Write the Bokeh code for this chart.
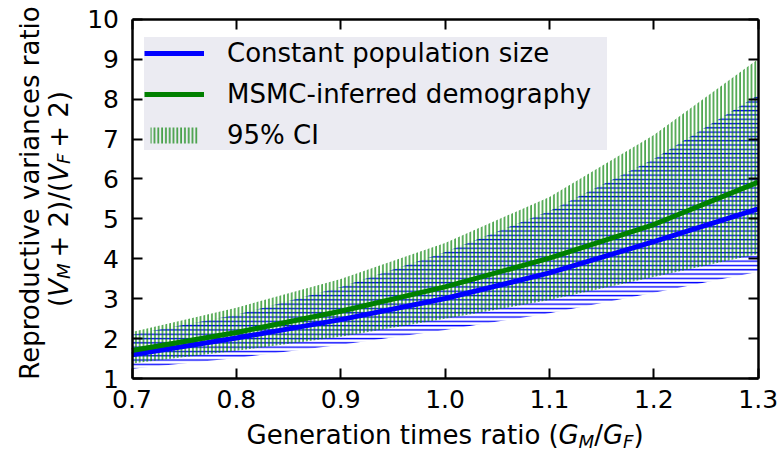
import math
from bokeh.plotting import figure
from bokeh.models import (LinearAxis, FixedTicker, Label, Legend, LegendItem,
                          ColumnDataSource, Range1d)
from bokeh.embed import file_html
from bokeh.resources import INLINE

# ---------------- data ----------------
ratio = [0.7, 0.8, 0.9, 1.0, 1.1, 1.2, 1.3]
constant_pop = [1.60, 2.02, 2.48, 3.01, 3.65, 4.43, 5.25]
constant_lo = [1.25, 1.52, 1.85, 2.22, 2.64, 3.15, 3.68]
constant_hi = [2.10, 2.60, 3.30, 4.17, 5.20, 6.50, 8.10]
msmc = [1.71, 2.16, 2.69, 3.30, 4.02, 4.86, 5.92]
msmc_lo = [1.38, 1.70, 2.05, 2.50, 2.97, 3.55, 4.12]
msmc_hi = [2.17, 2.78, 3.50, 4.40, 5.55, 7.10, 9.00]

x_ticks = [0.7, 0.8, 0.9, 1.0, 1.1, 1.2, 1.3]
x_tick_labels = ["0.7", "0.8", "0.9", "1.0", "1.1", "1.2", "1.3"]
y_ticks = [1, 2, 3, 4, 5, 6, 7, 8, 9, 10]
y_tick_labels = ["1", "2", "3", "4", "5", "6", "7", "8", "9", "10"]
x_lim = (0.7, 1.3)
y_lim = (1, 10)

legend_labels = ["Constant population size", "MSMC-inferred demography", "95% CI"]

# ---------------- layout geometry ----------------
FONT = "DejaVu Sans"
W, H = 780, 454
FL, FR, FT, FB = 131.5, 757.7, 18.6, 378.3  # plotting-area edges (canvas px)
BASE_FIX = 9.0  # baseline correction for labels

kx = (FR - FL) / (x_lim[1] - x_lim[0])
ky = (FB - FT) / (y_lim[1] - y_lim[0])
xr = Range1d(x_lim[0] - FL / kx, x_lim[1] + (W - FR) / kx)
yr = Range1d(y_lim[0] - (H - FB) / ky, y_lim[1] + FT / ky)

p = figure(width=W, height=H, x_range=xr, y_range=yr,
           x_axis_location=None, y_axis_location=None,
           output_backend="svg", toolbar_location=None,
           min_border=0, min_border_left=0, min_border_right=0,
           min_border_top=0, min_border_bottom=0)
p.title.visible = False
p.grid.visible = False
p.background_fill_color = "white"
p.border_fill_color = "white"
p.outline_line_color = None

src = ColumnDataSource(dict(x=ratio, c=constant_pop, clo=constant_lo, chi=constant_hi,
                            m=msmc, mlo=msmc_lo, mhi=msmc_hi))

blue_band = p.varea(x="x", y1="clo", y2="chi", source=src, fill_alpha=0,
                    hatch_pattern="horizontal_line", hatch_color="blue",
                    hatch_scale=4.3, hatch_weight=1.4, hatch_alpha=1.0)
green_band = p.varea(x="x", y1="mlo", y2="mhi", source=src, fill_alpha=0,
                     hatch_pattern="vertical_line", hatch_color="green",
                     hatch_scale=3.8, hatch_weight=1.3, hatch_alpha=0.95)
blue_line = p.line(x="x", y="c", source=src, line_color="blue", line_width=5)
green_line = p.line(x="x", y="m", source=src, line_color="green", line_width=5)


def make_axis(ticks, labels, bounds, loc, show_labels, standoff):
    ax = LinearAxis(ticker=FixedTicker(ticks=ticks), bounds=bounds, fixed_location=loc)
    ax.axis_line_width = 2.5
    ax.axis_line_color = "black"
    ax.major_tick_line_width = 2
    ax.major_tick_line_color = "black"
    ax.major_tick_in = 10
    ax.major_tick_out = 0
    ax.minor_tick_line_color = None
    ax.major_label_text_font = FONT
    ax.major_label_text_font_size = "25px"
    ax.major_label_standoff = standoff
    if show_labels:
        ax.major_label_overrides = {t: s for t, s in zip(ticks, labels)}
        ax.major_label_text_color = "black"
    else:
        ax.major_label_text_color = None
    return ax


p.add_layout(make_axis(x_ticks, x_tick_labels, x_lim, y_lim[0], True, 11), "below")
p.add_layout(make_axis(y_ticks, y_tick_labels, y_lim, x_lim[0], True, 13), "left")
p.add_layout(make_axis(x_ticks, x_tick_labels, x_lim, y_lim[1], False, 0), "above")
p.add_layout(make_axis(y_ticks, y_tick_labels, y_lim, x_lim[1], False, 0), "right")

legend = Legend(items=[
    LegendItem(label=legend_labels[0], renderers=[blue_line]),
    LegendItem(label=legend_labels[1], renderers=[green_line]),
    LegendItem(label=legend_labels[2], renderers=[green_band]),
], location=(144, H - 150))
legend.margin = 0
legend.padding = 14
legend.spacing = 10
legend.glyph_width = 60
legend.glyph_height = 20
legend.label_height = 31
legend.label_width = 380
legend.label_standoff = 23
legend.label_text_font = FONT
legend.label_text_font_size = "26px"
legend.label_text_color = "black"
legend.background_fill_color = "#ebebf2"
legend.background_fill_alpha = 1.0
legend.border_line_color = None
p.add_layout(legend)

# ---------------- axis labels built from pieces (mathtext look) ----------------
FS = 26.0
SUB = 0.7 * FS
ADV = {  # DejaVu Sans advance widths (units of 2048)
    "(": 799, ")": 799, "/": 690, "+": 1716, "2": 1303, " ": 651,
    "V": 1400, "M": 1767, "F": 1178, "G": 1577,
}


def width(s, size):
    return sum(ADV[ch] for ch in s) / 2048.0 * size


def piece(text, x, y, size, italic=False, angle=0.0, align="left"):
    p.add_layout(Label(x=x, y=y, x_units="screen", y_units="screen", text=text,
                       angle=angle, text_font=FONT, text_font_size=f"{size:.1f}px",
                       text_font_style="italic" if italic else "normal",
                       text_color="black", text_align=align,
                       text_baseline="alphabetic"))


# x label: Generation times ratio (G_M/G_F)
parts_x = [("Generation times ratio (", FS, False, 0, 312.1),
           ("G", FS, True, 0, width("G", FS)),
           ("M", SUB, True, 7, width("M", SUB)),
           ("/", FS, False, 0, width("/", FS)),
           ("G", FS, True, 0, width("G", FS)),
           ("F", SUB, True, 7, width("F", SUB)),
           (")", FS, False, 0, width(")", FS))]
total = sum(w for *_, w in parts_x)
pos = (FL + FR) / 2.0 - total / 2.0
base_y = H - 443 + BASE_FIX
for text, size, it, drop, w in parts_x:
    piece(text, pos, base_y - drop, size, it)
    pos += w

# y label, line 1
piece("Reproductive variances ratio", 38 - BASE_FIX, H - 192.5, FS,
      angle=math.pi / 2, align="center")

# y label, line 2: (V_M + 2)/(V_F + 2)
gap = 5.8
parts_y = [("(", FS, False, 0, width("(", FS)),
           ("V", FS, True, 0, width("V", FS)),
           ("M", SUB, True, 5, width("M", SUB) + gap),
           ("+ 2)/(", FS, False, 0, width("+ 2)/(", FS)),
           ("V", FS, True, 0, width("V", FS)),
           ("F", SUB, True, 5, width("F", SUB) + gap),
           ("+ 2)", FS, False, 0, width("+ 2)", FS))]
total = sum(w for *_, w in parts_y)
pos = (H - 198.5) - total / 2.0
for text, size, it, drop, w in parts_y:
    piece(text, 67 - BASE_FIX + drop, pos, size, it, angle=math.pi / 2)
    pos += w

open("out.html", "w").write(file_html(p, INLINE))
